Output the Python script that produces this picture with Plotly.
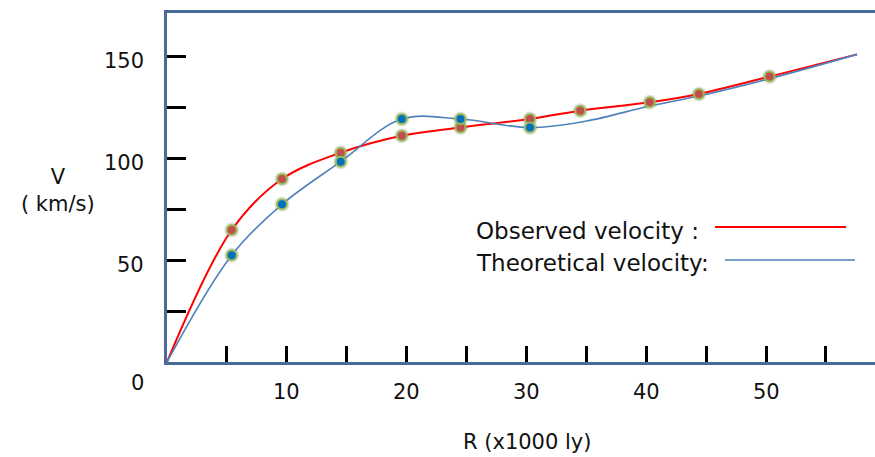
import plotly.graph_objects as go

# ---- data ----
R_obs = [5.4, 9.6, 14.5, 19.6, 24.5, 30.3, 34.5, 40.3, 44.4, 50.3]
V_obs = [64.7, 89.7, 102.6, 110.9, 115.0, 119.1, 123.2, 127.3, 131.4, 139.9]

R_theo = [5.4, 9.6, 14.5, 19.6, 24.5, 30.3]
V_theo = [52.3, 77.3, 98.2, 119.1, 119.1, 114.9]

# curve traces (smooth lines through the points, from origin to the end)
R_obs_curve = [0, 5.4, 9.6, 14.5, 19.6, 24.5, 30.3, 34.5, 40.3, 44.4, 50.3, 57.6]
V_obs_curve = [0, 64.7, 89.7, 102.6, 110.9, 115.0, 119.1, 123.2, 127.3, 131.4, 139.9, 150.8]
R_theo_curve = [0, 5.4, 9.6, 14.5, 19.6, 24.5, 30.3, 35.0, 40.3, 44.4, 50.3, 57.6]
V_theo_curve = [0, 52.3, 77.3, 98.2, 119.1, 119.1, 114.9, 118.1, 125.5, 130.4, 138.9, 150.8]

x_tickvals = [5, 10, 15, 20, 25, 30, 35, 40, 45, 50, 55]
x_labels = [10, 20, 30, 40, 50]
y_tickvals = [25, 50, 75, 100, 125, 150]
y_labels = [50, 100, 150]

legend_labels = ["Observed velocity :", "Theoretical velocity:"]
x_title = "R (x1000 ly)"
y_title = "V<br>( km/s)"

# ---- style ----
W, H = 875, 457
PL, PT, PR, PB = 167, 13, 875, 362          # plot area in page pixels
ML, MT, MR, MB = PL, PT, W - PR, H - PB
FONT = "DejaVu Sans"
TXT = "#111111"
AXIS = "#4a6a98"
RED = "#ff0000"
BLUE = "#4f81bd"

def px(xp):
    return (xp - PL) / (PR - PL)

def py(yp):
    return (PB - yp) / (PB - PT)

fig = go.Figure()

fig.add_trace(go.Scatter(x=R_obs_curve, y=V_obs_curve, mode="lines",
                         line=dict(color=RED, width=2, shape="spline", smoothing=1.0),
                         hoverinfo="skip"))
fig.add_trace(go.Scatter(x=R_theo_curve, y=V_theo_curve, mode="lines",
                         line=dict(color=BLUE, width=1.6, shape="spline", smoothing=1.0),
                         hoverinfo="skip"))

for xs, ys, col in [(R_obs, V_obs, "#c0504d"), (R_theo, V_theo, "#0070c0")]:
    fig.add_trace(go.Scatter(x=xs, y=ys, mode="markers",
                             marker=dict(size=15, color="rgba(110,130,90,0.22)", line=dict(width=0)),
                             hoverinfo="skip"))
    fig.add_trace(go.Scatter(x=xs, y=ys, mode="markers",
                             marker=dict(size=10, color=col, line=dict(width=2, color="#9bbb59"))))

ann = []
for v in y_labels:
    ann.append(dict(x=0, xref="paper", y=v, yref="y", text=str(v), showarrow=False,
                    xanchor="right", yanchor="middle", xshift=-21, yshift=-5,
                    font=dict(family=FONT, size=21, color=TXT)))
ann.append(dict(x=px(137), xref="paper", y=py(383), yref="paper", text="0", showarrow=False,
                xanchor="center", yanchor="middle", font=dict(family=FONT, size=21, color=TXT)))
for v in x_labels:
    ann.append(dict(x=v, xref="x", y=py(392), yref="paper", text=str(v), showarrow=False,
                    xanchor="center", yanchor="middle",
                    font=dict(family=FONT, size=21, color=TXT)))
ann.append(dict(x=px(527), xref="paper", y=py(442), yref="paper", text=x_title, showarrow=False,
                xanchor="center", yanchor="middle", font=dict(family=FONT, size=21, color=TXT)))
ann.append(dict(x=px(58), xref="paper", y=py(190), yref="paper", text=y_title, showarrow=False,
                xanchor="center", yanchor="middle", font=dict(family=FONT, size=21, color=TXT)))
ann.append(dict(x=px(474), xref="paper", y=py(231), yref="paper", text=legend_labels[0], showarrow=False,
                xanchor="left", yanchor="middle", font=dict(family=FONT, size=23, color=TXT)))
ann.append(dict(x=px(474), xref="paper", y=py(263), yref="paper", text=legend_labels[1], showarrow=False,
                xanchor="left", yanchor="middle", font=dict(family=FONT, size=23, color=TXT)))

shapes = [
    dict(type="line", xref="paper", yref="paper", x0=px(715), x1=px(846), y0=py(227), y1=py(227),
         line=dict(color=RED, width=2)),
    dict(type="line", xref="paper", yref="paper", x0=px(725), x1=px(855), y0=py(260), y1=py(260),
         line=dict(color=BLUE, width=1.6)),
]

fig.update_layout(
    width=W, height=H,
    margin=dict(l=ML, r=MR, t=MT, b=MB),
    paper_bgcolor="white", plot_bgcolor="white",
    showlegend=False,
    annotations=ann, shapes=shapes,
    xaxis=dict(range=[0, (PR - PL) / 11.98], showgrid=False, zeroline=False,
               showline=True, linecolor=AXIS, linewidth=2.5, mirror=True,
               ticks="inside", tickvals=x_tickvals, ticklen=16, tickwidth=3, tickcolor="black",
               showticklabels=False, fixedrange=True),
    yaxis=dict(range=[0, (PB - PT) / 2.04], showgrid=False, zeroline=False,
               showline=True, linecolor=AXIS, linewidth=3,
               ticks="inside", tickvals=y_tickvals, ticklen=19, tickwidth=3, tickcolor="black",
               showticklabels=False, fixedrange=True),
)

fig.write_html("out.html", config={"displayModeBar": False},
               post_script="document.body.style.margin='0';document.body.style.overflow='hidden';")
